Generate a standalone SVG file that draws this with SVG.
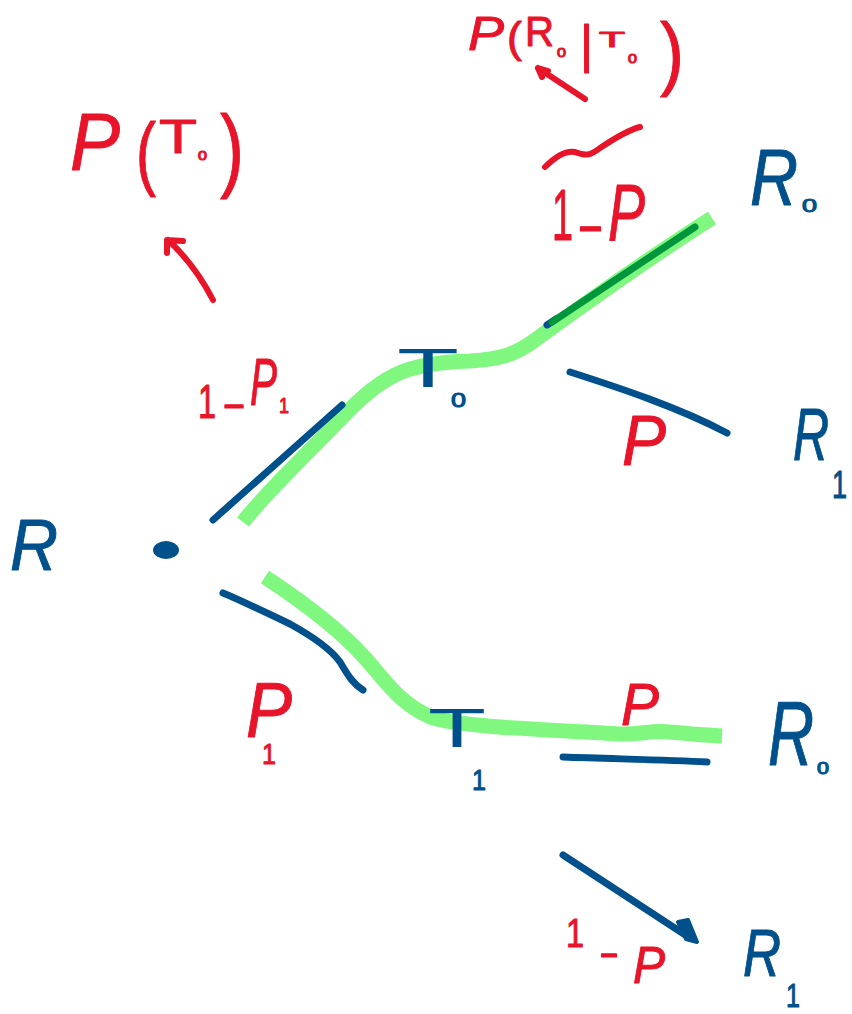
<svg xmlns="http://www.w3.org/2000/svg" width="852" height="1014" viewBox="0 0 852 1014">
<style>
text{font-family:"Liberation Sans","DejaVu Sans",sans-serif;stroke-linejoin:round;stroke-width:1}
.r{fill:#e8142a;stroke:#e8142a}
.b{fill:#00508c;stroke:#00508c}
.i{font-style:italic}
.hl{fill:none;stroke:#80f880;stroke-width:15;stroke-linecap:butt;stroke-linejoin:round}
.bl{fill:none;stroke:#00508c;stroke-width:7;stroke-linecap:round;stroke-linejoin:round}
.dg{fill:none;stroke:#00963c;stroke-width:7;stroke-linecap:round}
.rl{fill:none;stroke:#e8142a;stroke-width:6;stroke-linecap:round;stroke-linejoin:round}
</style>
<rect width="852" height="1014" fill="#ffffff"/>
<g id="connectors">
<path class="hl" d="M243,522 C260,500 290,470 320,440 C345,415 365,390 395,375 C415,365 440,362 470,361 C500,359 515,355 535,340 C570,315 630,270 712,218"/>
<path class="hl" d="M265,577 C300,600 340,630 365,658 C385,680 400,705 433,718 C470,728 560,730 620,734 C640,735 650,730 670,732 C690,734 705,735 722,736"/>
<path class="bl" d="M213,520 L342,405"/>
<path class="bl" d="M547,325 L556,319"/>
<path class="dg" d="M552,322 L695,227"/>
<path class="bl" d="M570,372 C620,388 680,408 727,433"/>
<path class="bl" d="M223,593 C240,600 265,612 290,624 C310,635 330,648 340,662 C348,675 352,683 363,690"/>
<path class="bl" d="M563,757 C620,759 670,760 707,762"/>
<path class="bl" d="M563,855 L690,938"/>
<polygon points="678,922 688,920 697,942 686,939" fill="#00508c" stroke="#00508c" stroke-width="4" stroke-linejoin="round"/>
<path class="rl" d="M213,300 Q195,265 168,240 M167,253 L167,240 L183,241"/>
<path class="rl" d="M585,99 L538,68 M538,68 L548,71 M538,68 L542,77"/>
<path class="rl" d="M545,167 C555,157 565,150 575,152 C585,156 590,156 600,148 C615,138 628,130 640,127"/>
</g>
<g id="root-R">
<text class="b i" x="10" y="570" font-size="72" textLength="48" lengthAdjust="spacingAndGlyphs">R</text>
<ellipse cx="166" cy="550" rx="13" ry="9" fill="#00508c"/>
</g>
<g id="node-T0">
<text class="b"><tspan x="397" y="387" font-size="56" textLength="62" lengthAdjust="spacingAndGlyphs" stroke-width="0">T</tspan><tspan x="451" y="407" font-size="20" textLength="15" lengthAdjust="spacingAndGlyphs">0</tspan></text>
</g>
<g id="node-T1">
<text class="b"><tspan x="428" y="747" font-size="56" textLength="58" lengthAdjust="spacingAndGlyphs" stroke-width="0">T</tspan><tspan x="472" y="790" font-size="30" textLength="14" lengthAdjust="spacingAndGlyphs">1</tspan></text>
</g>
<g id="node-R0-top">
<text class="b"><tspan class="i" x="750" y="205" font-size="80" textLength="48" lengthAdjust="spacingAndGlyphs">R</tspan><tspan x="802" y="212" font-size="18" textLength="15" lengthAdjust="spacingAndGlyphs">0</tspan></text>
</g>
<g id="node-R1-top">
<text class="b"><tspan class="i" x="793" y="460" font-size="74" textLength="36" lengthAdjust="spacingAndGlyphs">R</tspan><tspan x="832" y="498" font-size="38" textLength="15" lengthAdjust="spacingAndGlyphs">1</tspan></text>
</g>
<g id="node-R0-bottom">
<text class="b"><tspan class="i" x="768" y="765" font-size="90" textLength="46" lengthAdjust="spacingAndGlyphs">R</tspan><tspan x="817" y="774" font-size="16" textLength="12" lengthAdjust="spacingAndGlyphs">0</tspan></text>
</g>
<g id="node-R1-bottom">
<text class="b"><tspan class="i" x="743" y="976" font-size="66" textLength="38" lengthAdjust="spacingAndGlyphs">R</tspan><tspan x="786" y="1007" font-size="34" textLength="14" lengthAdjust="spacingAndGlyphs">1</tspan></text>
</g>
<g id="label-PT0">
<text class="r"><tspan class="i" x="70" y="170" font-size="82" textLength="50" lengthAdjust="spacingAndGlyphs">P</tspan><tspan x="136" y="180" font-size="82" textLength="20" lengthAdjust="spacingAndGlyphs">(</tspan><tspan x="159" y="153" font-size="48" textLength="38" lengthAdjust="spacingAndGlyphs">T</tspan><tspan x="198" y="160" font-size="13" textLength="9" lengthAdjust="spacingAndGlyphs">0</tspan><tspan x="220" y="180" font-size="92" textLength="24" lengthAdjust="spacingAndGlyphs">)</tspan></text>
</g>
<g id="label-PR0T0">
<text class="r"><tspan class="i" x="468" y="50" font-size="48" textLength="36" lengthAdjust="spacingAndGlyphs">P</tspan><tspan x="507" y="52" font-size="42" textLength="15" lengthAdjust="spacingAndGlyphs">(</tspan><tspan x="525" y="46" font-size="42" textLength="29" lengthAdjust="spacingAndGlyphs">R</tspan><tspan x="557" y="57" font-size="13" textLength="9" lengthAdjust="spacingAndGlyphs">0</tspan><tspan x="580" y="62" font-size="52" textLength="13" lengthAdjust="spacingAndGlyphs">|</tspan><tspan x="599" y="47" font-size="22" textLength="26" lengthAdjust="spacingAndGlyphs">T</tspan><tspan x="628" y="63" font-size="13" textLength="9" lengthAdjust="spacingAndGlyphs">0</tspan><tspan x="660" y="80" font-size="82" textLength="24" lengthAdjust="spacingAndGlyphs">)</tspan></text>
</g>
<g id="label-1-p-top">
<text class="r"><tspan x="552" y="240" font-size="72" textLength="21" lengthAdjust="spacingAndGlyphs">1</tspan><tspan x="577" y="244" font-size="56" textLength="27" lengthAdjust="spacingAndGlyphs">-</tspan><tspan class="i" x="608" y="240" font-size="80" textLength="37" lengthAdjust="spacingAndGlyphs">P</tspan></text>
</g>
<g id="label-1-p1">
<text class="r"><tspan x="198" y="418" font-size="48" textLength="18" lengthAdjust="spacingAndGlyphs">1</tspan><tspan x="222" y="417" font-size="40" textLength="24" lengthAdjust="spacingAndGlyphs">-</tspan><tspan class="i" x="250" y="405" font-size="66" textLength="27" lengthAdjust="spacingAndGlyphs">P</tspan><tspan x="279" y="413" font-size="22" textLength="10" lengthAdjust="spacingAndGlyphs">1</tspan></text>
</g>
<g id="label-p-upper">
<text class="r i" x="622" y="465" font-size="70" textLength="44" lengthAdjust="spacingAndGlyphs">P</text>
</g>
<g id="label-p1">
<text class="r"><tspan class="i" x="246" y="737" font-size="78" textLength="46" lengthAdjust="spacingAndGlyphs">P</tspan><tspan x="262" y="764" font-size="30" textLength="14" lengthAdjust="spacingAndGlyphs">1</tspan></text>
</g>
<g id="label-p-lower">
<text class="r i" x="621" y="725" font-size="60" textLength="38" lengthAdjust="spacingAndGlyphs">P</text>
</g>
<g id="label-1-p-bottom">
<text class="r"><tspan x="566" y="947" font-size="40" textLength="18" lengthAdjust="spacingAndGlyphs">1</tspan><tspan x="599" y="966" font-size="40" textLength="20" lengthAdjust="spacingAndGlyphs">-</tspan><tspan class="i" x="633" y="983" font-size="52" textLength="32" lengthAdjust="spacingAndGlyphs">P</tspan></text>
</g>
</svg>
